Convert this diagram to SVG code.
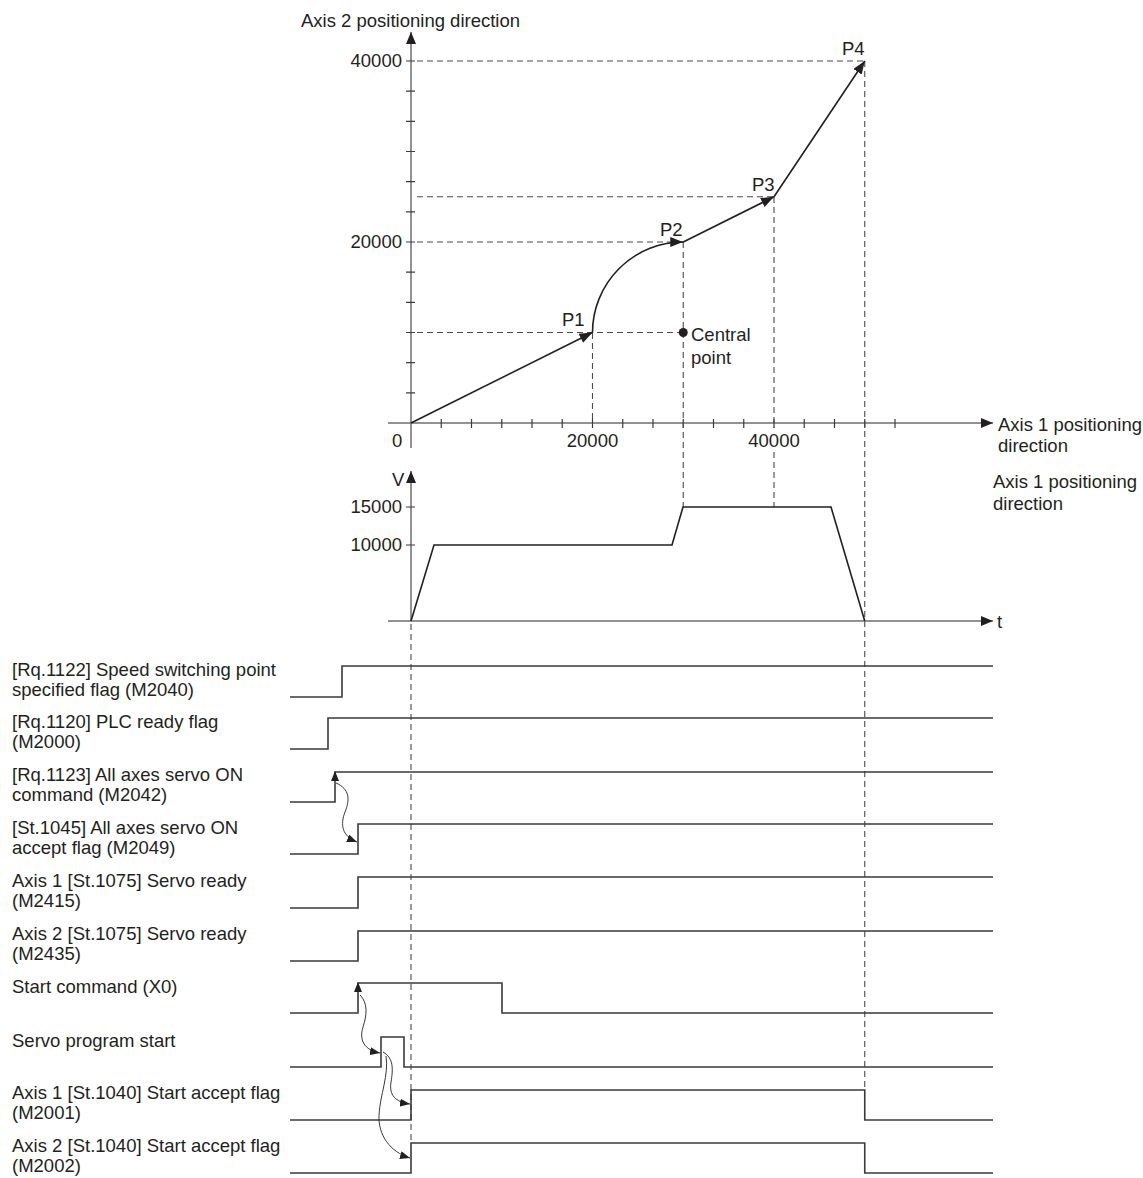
<svg xmlns="http://www.w3.org/2000/svg" width="1143" height="1178" viewBox="0 0 1143 1178">
<defs>
<style>
text{font-family:"Liberation Sans",Arial,sans-serif;font-size:18.5px;fill:#231f20}
.ax{stroke:#6d6e71;stroke-width:1.5;fill:none}
.tk{stroke:#3c3c3c;stroke-width:1.2;fill:none}
.ds{stroke:#4a4a4a;stroke-width:1.1;stroke-dasharray:6 4;fill:none}
.pt{stroke:#231f20;stroke-width:1.6;fill:none}
.sg{stroke:#3a3a3a;stroke-width:1.6;fill:none}
.th{stroke:#231f20;stroke-width:0.9;fill:none}
.r{text-anchor:end}
.m{text-anchor:middle}
</style>
<marker id="ah" viewBox="0 0 12 10" refX="12" refY="5" markerWidth="12" markerHeight="10" markerUnits="userSpaceOnUse" orient="auto"><path d="M0,0 L12,5 L0,10 z" fill="#231f20"/></marker>
<marker id="ha" viewBox="0 0 13 10" refX="13" refY="5" markerWidth="13" markerHeight="10" markerUnits="userSpaceOnUse" orient="auto"><path d="M0,0 L13,5 L0,10 z" fill="#231f20"/></marker>
<marker id="sa" viewBox="0 0 10 8" refX="10" refY="4" markerWidth="10" markerHeight="8" markerUnits="userSpaceOnUse" orient="auto"><path d="M0,0 L10,4 L0,8 z" fill="#231f20"/></marker>
</defs>

<g id="xy-plot">
<text x="301" y="27">Axis 2 positioning direction</text>
<path class="ax" d="M411,448 V32" marker-end="url(#ah)"/>
<path class="ax" d="M388,423 H993" marker-end="url(#ah)"/>
<path class="tk" d="M406,392.8h9M406,362.7h9M406,332.5h9M406,302.3h9M406,272.2h9M406,242h9M406,211.8h9M406,181.7h9M406,151.5h9M406,121.3h9M406,91.2h9M406,61h9"/>
<path class="tk" d="M441.25,419v9M471.5,419v9M501.75,419v9M532,419v9M562.25,419v9M592.5,419v9M622.75,419v9M653,419v9M683.25,419v9M713.5,419v9M743.75,419v9M774,419v9M804.25,419v9M834.5,419v9M864.75,419v9M895,419v9"/>
<path class="ds" d="M417,61H864.75M417,196.75H774M417,242H683M417,332.5H683"/>
<path class="ds" d="M592.5,333V423M683.25,242V507M774,197V428M774,452V507M864.75,61V1090"/>
<text class="r" x="402" y="67">40000</text>
<text class="r" x="402" y="248">20000</text>
<text x="392" y="447">0</text>
<text class="m" x="592.5" y="447">20000</text>
<text class="m" x="774" y="447">40000</text>
<text x="998" y="431">Axis 1 positioning</text>
<text x="998" y="452">direction</text>
<path class="pt" d="M411,423L592.5,332.5" marker-end="url(#ha)"/>
<path class="pt" d="M592.5,332.5A90.7,90.7 0 0 1 683.25,242" marker-end="url(#ha)"/>
<path class="pt" d="M683.25,242L774,196.75" marker-end="url(#ha)"/>
<path class="pt" d="M774,196.75L864.75,61" marker-end="url(#ha)"/>
<circle cx="683.25" cy="332.5" r="4.5" fill="#231f20"/>
<text x="562" y="326">P1</text>
<text x="660" y="236">P2</text>
<text x="752" y="191">P3</text>
<text x="842" y="55">P4</text>
<text x="691" y="341">Central</text>
<text x="691" y="364">point</text>
</g>

<g id="velocity-plot">
<text x="993" y="488">Axis 1 positioning</text>
<text x="993" y="510">direction</text>
<path class="ax" d="M411,621V471" marker-end="url(#ah)"/>
<path class="ax" d="M388,621H993" marker-end="url(#ah)"/>
<path class="tk" d="M406,507h9M406,545h9"/>
<text x="392" y="486">V</text>
<text class="r" x="402" y="513">15000</text>
<text class="r" x="402" y="551">10000</text>
<text x="997" y="628">t</text>
<path class="pt" d="M411,621L434,545H672L683,507H831L864.75,621"/>
<path class="ds" d="M411,624V1143"/>
</g>

<g id="timing-chart">
<g id="row-m2040">
<text x="12" y="676">[Rq.1122] Speed switching point</text>
<text x="12" y="696">specified flag (M2040)</text>
<path class="sg" d="M290,697H342V666H993"/>
</g>
<g id="row-m2000">
<text x="12" y="728">[Rq.1120] PLC ready flag</text>
<text x="12" y="748">(M2000)</text>
<path class="sg" d="M290,749H328V718H993"/>
</g>
<g id="row-m2042">
<text x="12" y="781">[Rq.1123] All axes servo ON</text>
<text x="12" y="801">command (M2042)</text>
<path class="sg" d="M290,802H335V772H993"/>
<path d="M335,771l-4,10h8z" fill="#231f20"/>
</g>
<g id="row-m2049">
<text x="12" y="834">[St.1045] All axes servo ON</text>
<text x="12" y="854">accept flag (M2049)</text>
<path class="sg" d="M290,854H358V824H993"/>
</g>
<g id="row-m2415">
<text x="12" y="887">Axis 1 [St.1075] Servo ready</text>
<text x="12" y="907">(M2415)</text>
<path class="sg" d="M290,908H358V877H993"/>
</g>
<g id="row-m2435">
<text x="12" y="940">Axis 2 [St.1075] Servo ready</text>
<text x="12" y="960">(M2435)</text>
<path class="sg" d="M290,961H358V931H993"/>
</g>
<g id="row-x0">
<text x="12" y="993">Start command (X0)</text>
<path class="sg" d="M290,1013H358V983H502V1013H993"/>
<path d="M358,982l-4,10h8z" fill="#231f20"/>
</g>
<g id="row-servo-start">
<text x="12" y="1047">Servo program start</text>
<path class="sg" d="M290,1067H381V1037H404V1067H993"/>
</g>
<g id="row-m2001">
<text x="12" y="1099">Axis 1 [St.1040] Start accept flag</text>
<text x="12" y="1119">(M2001)</text>
<path class="sg" d="M290,1120H411V1090H864.75V1120H993"/>
</g>
<g id="row-m2002">
<text x="12" y="1152">Axis 2 [St.1040] Start accept flag</text>
<text x="12" y="1172">(M2002)</text>
<path class="sg" d="M290,1173H411V1143H864.75V1173H993"/>
</g>
</g>

<g id="connectors">
<path class="th" d="M336,783C350,789 350,800 345,812C340,825 342,836 357,842" marker-end="url(#sa)"/>
<path class="th" d="M360,995C368,1003 367,1015 363,1027C359,1040 364,1050 380,1053" marker-end="url(#sa)"/>
<path class="th" d="M383,1052C394,1058 393,1070 391,1082C389,1095 395,1102 410,1104" marker-end="url(#sa)"/>
<path class="th" d="M386,1056C389,1075 380,1095 379,1115C378,1135 390,1152 410,1158" marker-end="url(#sa)"/>
</g>
</svg>
